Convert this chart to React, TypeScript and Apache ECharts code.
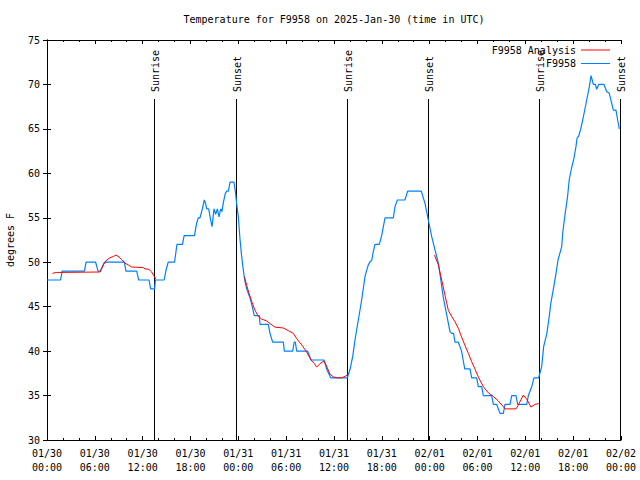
import React, { useEffect, useRef } from "react";
import * as echarts from "echarts";

const FONT = '"DejaVu Sans Mono", "Liberation Mono", monospace';

const titleText = "Temperature for F9958 on 2025-Jan-30 (time in UTC)";
const yAxisName = "degrees F";
const analysisName = "F9958 Analysis";
const obsName = "F9958";

// hours since 2025-01-30 00:00 UTC
const blueTimes = [
  0, 1.7, 1.9, 4.7, 4.9, 6.1, 6.4, 6.7, 7.2, 9.7, 9.9, 11.25, 11.5, 12.8, 13.0, 13.5, 13.6, 14.7, 14.9, 15.2,
  16.0, 16.3, 17.0, 17.2, 18.5, 18.77, 18.98, 19.19, 19.49, 19.73, 19.9, 20.03, 20.28, 20.53, 20.7, 20.95,
  21.16, 21.37, 21.58, 21.79, 21.95, 22.12, 22.37, 22.54, 22.75, 22.96, 23.46, 23.62, 23.79, 24.0, 24.2,
  24.4, 24.6, 24.8, 25.05, 25.25, 25.46, 25.7, 26.0, 26.63, 26.72, 27.76, 27.97, 28.31, 29.65, 29.77, 30.82,
  31.0, 31.15, 31.32, 32.7, 33.12, 34.75, 35.08, 35.58, 37.67, 38.0, 38.35, 38.63, 39.05, 39.47, 39.89, 40.3,
  40.52, 40.73, 40.93, 41.14, 41.68, 41.98, 42.4, 43.44, 43.65, 43.95, 44.9, 45.24, 46.95, 47.42, 47.83,
  48.25, 48.67, 49.09, 49.4, 49.7, 50.1, 50.55, 50.76, 51.0, 51.18, 51.6, 52.0, 52.2, 52.4, 53.06, 53.27,
  53.9, 54.1, 54.53, 54.73, 55.78, 55.99, 56.41, 56.82, 57.24, 57.45, 58.08, 58.29, 58.83, 59.04, 60.17,
  60.38, 60.8, 61.09, 61.67, 62.05, 62.3, 62.7, 63.0, 63.2, 63.5, 63.85, 64.1, 64.56, 64.7, 65.0, 65.3, 65.5,
  65.8, 66.1, 66.35, 66.5, 66.7, 66.95, 67.2, 67.4, 67.7, 68.03, 68.24, 68.36, 68.53, 68.78, 68.95, 69.2,
  69.87, 70.2, 70.53, 70.83, 71.04, 71.37, 71.58, 71.79,
];
const blueValues = [
  48, 48, 49, 49, 50, 50, 49, 49, 50, 50, 49, 49, 48, 48, 47, 47, 48, 48, 49, 50,
  50, 52, 52, 53, 53, 54.4, 55, 55, 56, 57, 56.6, 56, 56, 54.75, 54, 56,
  55.4, 56, 55.1, 56, 55.7, 56.7, 57.75, 58, 58, 59, 59, 58, 56.6, 55.1, 52.7,
  50.8, 49.3, 48, 47, 46.5, 46, 45.2, 44, 44, 43, 43, 42, 41, 41, 40, 40,
  41, 41, 40, 40, 39, 39, 38, 37, 37, 37.9, 39.4, 41.25, 43.5, 45.75, 48.4, 49.7,
  50.06, 50.2, 51.2, 52, 52, 53, 55, 55, 56.25, 57, 57, 58, 58, 56.6, 54.75,
  52.9, 51.4, 49.9, 48, 46.1, 44.25, 42.2, 42, 42, 41, 41, 40, 39, 38, 38, 37,
  37, 36, 36, 35, 35, 34, 34, 33, 33, 34, 34, 35, 35, 34, 34,
  35, 36, 37, 37, 38.25, 40.5, 42, 43.9, 45.4, 46.9, 48.75, 50.25, 51.75, 53.4, 55.5, 57.4, 59.25,
  60.6, 61.7, 63, 64, 64.2, 65, 66, 66.9, 68.25, 69.75, 71, 70.6, 70, 70, 69.45, 70,
  70, 69.2, 69, 67.9, 67.1, 67.1, 66, 65,
];

const redTimes = [
  0.67, 1.21, 6.65, 7.07, 7.49, 7.9, 8.32, 8.66, 9.03, 9.37, 9.78, 10.2, 10.62, 12.08, 12.29, 12.79, 13.13,
  13.46, 13.67, 19.0,
  24.75, 25.05, 25.34, 25.67, 26.09, 26.51, 26.93, 27.55, 27.97, 28.6, 29.65, 30.27, 30.9, 31.32, 31.95,
  32.57, 33.12, 33.53, 33.83, 34.25, 34.75, 35.08, 35.5, 35.92, 36.34, 36.97, 37.47, 37.67, 43.0,
  48.6, 49.09, 49.51, 49.92, 50.34, 50.76, 51.18, 51.6, 52.0, 52.4, 52.85, 53.27, 53.7, 54.1, 54.73, 55.36,
  55.99, 56.6, 57.24, 57.45, 58.83, 59.1, 59.75, 60.25, 60.7, 61.2, 61.67,
];
const redValues: (number | null)[] = [
  48.75, 48.85, 48.9, 49.7, 50.25, 50.5, 50.65, 50.8, 50.6, 50.3, 49.9, 49.7, 49.46, 49.4, 49.25, 49.2, 48.9,
  48.4, 48.1, null,
  48.4, 47.4, 46.5, 45.6, 44.6, 43.9, 43.6, 43.4, 43.1, 42.7, 42.6, 42.3, 42.0, 41.4, 40.7,
  39.9, 39, 38.6, 38.2, 38.6, 38.9, 38.3, 37.4, 37.1, 37.0, 37.0, 37.2, 37.3, null,
  50.8, 49.7, 48, 46.3, 44.6, 43.9, 43.3, 42.56, 41.6, 40.7, 39.75, 38.8, 37.95, 37.1, 36, 35.3,
  34.9, 34.4, 33.75, 33.5, 33.5, 33.9, 35.06, 34.5, 33.7, 34.0, 34.1,
];

const sunTimes = [13.46, 23.7, 37.57, 47.83, 61.67, 71.87];
const sunLabels = ["Sunrise", "Sunset", "Sunrise", "Sunset", "Sunrise", "Sunset"];

const xMin = 0;
const xMax = 72;
const xInterval = 6;
const yMin = 30;
const yMax = 75;
const yInterval = 5;
const startUTC = Date.UTC(2025, 0, 30, 0, 0, 0);

const pad = (n: number) => (n < 10 ? "0" + n : "" + n);
const fmtX = (v: number) => {
  const d = new Date(startUTC + v * 3600000);
  return `${pad(d.getUTCMonth() + 1)}/${pad(d.getUTCDate())}\n${pad(d.getUTCHours())}:${pad(d.getUTCMinutes())}`;
};

const LINE_ICON = "path://M0,0H29V1H0Z";

export default function App() {
  const ref = useRef<HTMLDivElement>(null);
  useEffect(() => {
    if (!ref.current) return;
    const chart = echarts.init(ref.current, undefined, { renderer: "svg" });
    const gridLeft = 47;
    const gridRight = 19;
    const gridTop = 40;
    const gridBottom = 40;
    const axisCommon = {
      type: "value" as const,
      axisLine: { show: true, lineStyle: { color: "#000", width: 1 } },
      splitLine: { show: false },
    };
    chart.setOption({
      animation: false,
      backgroundColor: "#fff",
      textStyle: { fontFamily: FONT },
      title: {
        text: titleText,
        left: gridLeft + (640 - gridLeft - gridRight) / 2,
        textAlign: "center",
        top: 14,
        padding: 0,
        textStyle: { fontFamily: FONT, fontSize: 10, fontWeight: "normal", color: "#000" },
      },
      legend: {
        data: [
          { name: analysisName, icon: LINE_ICON },
          { name: obsName, icon: LINE_ICON },
        ],
        orient: "vertical",
        align: "right",
        right: 30,
        top: 45,
        itemWidth: 29,
        itemHeight: 12,
        itemGap: 3.5,
        padding: 0,
        textStyle: { fontFamily: FONT, fontSize: 10, color: "#000" },
      },
      grid: {
        left: gridLeft,
        right: gridRight,
        top: gridTop,
        bottom: gridBottom,
        containLabel: false,
        outerBoundsMode: "none",
      },
      xAxis: [
        {
          ...axisCommon,
          min: xMin,
          max: xMax,
          interval: xInterval,
          position: "bottom",
          axisTick: { show: true, inside: true, length: 4, lineStyle: { color: "#000" } },
          minorTick: { show: true, splitNumber: 3, length: 2, lineStyle: { color: "#000" } },
          axisLabel: {
            formatter: fmtX,
            fontFamily: FONT,
            fontSize: 10,
            color: "#000",
            lineHeight: 14,
            margin: 6,
            showMinLabel: true,
            showMaxLabel: true,
          },
        },
        {
          ...axisCommon,
          min: xMin,
          max: xMax,
          interval: xInterval,
          position: "top",
          axisTick: { show: true, inside: true, length: 4, lineStyle: { color: "#000" } },
          minorTick: { show: true, splitNumber: 3, length: 2, lineStyle: { color: "#000" } },
          axisLabel: { show: false },
        },
      ],
      yAxis: [
        {
          ...axisCommon,
          min: yMin,
          max: yMax,
          interval: yInterval,
          position: "left",
          name: yAxisName,
          nameLocation: "middle",
          nameRotate: 90,
          nameGap: 32,
          nameTextStyle: { fontFamily: FONT, fontSize: 10, color: "#000" },
          axisTick: { show: true, inside: true, length: 4, lineStyle: { color: "#000" } },
          axisLabel: { fontFamily: FONT, fontSize: 10, color: "#000", margin: 7 },
        },
        {
          ...axisCommon,
          min: yMin,
          max: yMax,
          interval: yInterval,
          position: "right",
          axisTick: { show: true, inside: true, length: 4, lineStyle: { color: "#000" } },
          axisLabel: { show: false },
        },
      ],
      series: [
        {
          name: "sun",
          type: "custom",
          clip: false,
          silent: true,
          z: 1,
          data: sunTimes.map((t) => [t, yMin]),
          encode: { x: 0, y: 1 },
          renderItem: (params: any, api: any) => {
            const t = api.value(0);
            const top = api.coord([t, yMax]);
            const bottom = api.coord([t, yMin]);
            const x = Math.round(top[0]) + 0.5;
            return {
              type: "group",
              children: [
                {
                  type: "line",
                  shape: { x1: x, y1: top[1] + 59, x2: x, y2: bottom[1] },
                  style: { stroke: "#000", lineWidth: 1 },
                },
                {
                  type: "text",
                  x: x + 0.5,
                  y: top[1] + 52,
                  rotation: Math.PI / 2,
                  style: {
                    text: sunLabels[params.dataIndex],
                    fill: "#000",
                    font: `10px ${FONT}`,
                    align: "left",
                    verticalAlign: "middle",
                  },
                },
              ],
            };
          },
        },
        {
          name: obsName,
          type: "line",
          symbol: "none",
          z: 3,
          lineStyle: { color: "#0080ff", width: 1.2 },
          itemStyle: { color: "#0080ff" },
          data: blueTimes.map((t, i) => [t, blueValues[i]]),
        },
        {
          name: analysisName,
          type: "line",
          symbol: "none",
          z: 4,
          connectNulls: false,
          lineStyle: { color: "#ff0000", width: 1 },
          itemStyle: { color: "#ff0000" },
          data: redTimes.map((t, i) => [t, redValues[i] === null ? "-" : redValues[i]]),
        },
      ],
    });
    return () => chart.dispose();
  }, []);
  return (
    <div
      ref={ref}
      style={{ position: "fixed", left: 0, top: 0, width: 640, height: 480, background: "#fff" }}
    />
  );
}
